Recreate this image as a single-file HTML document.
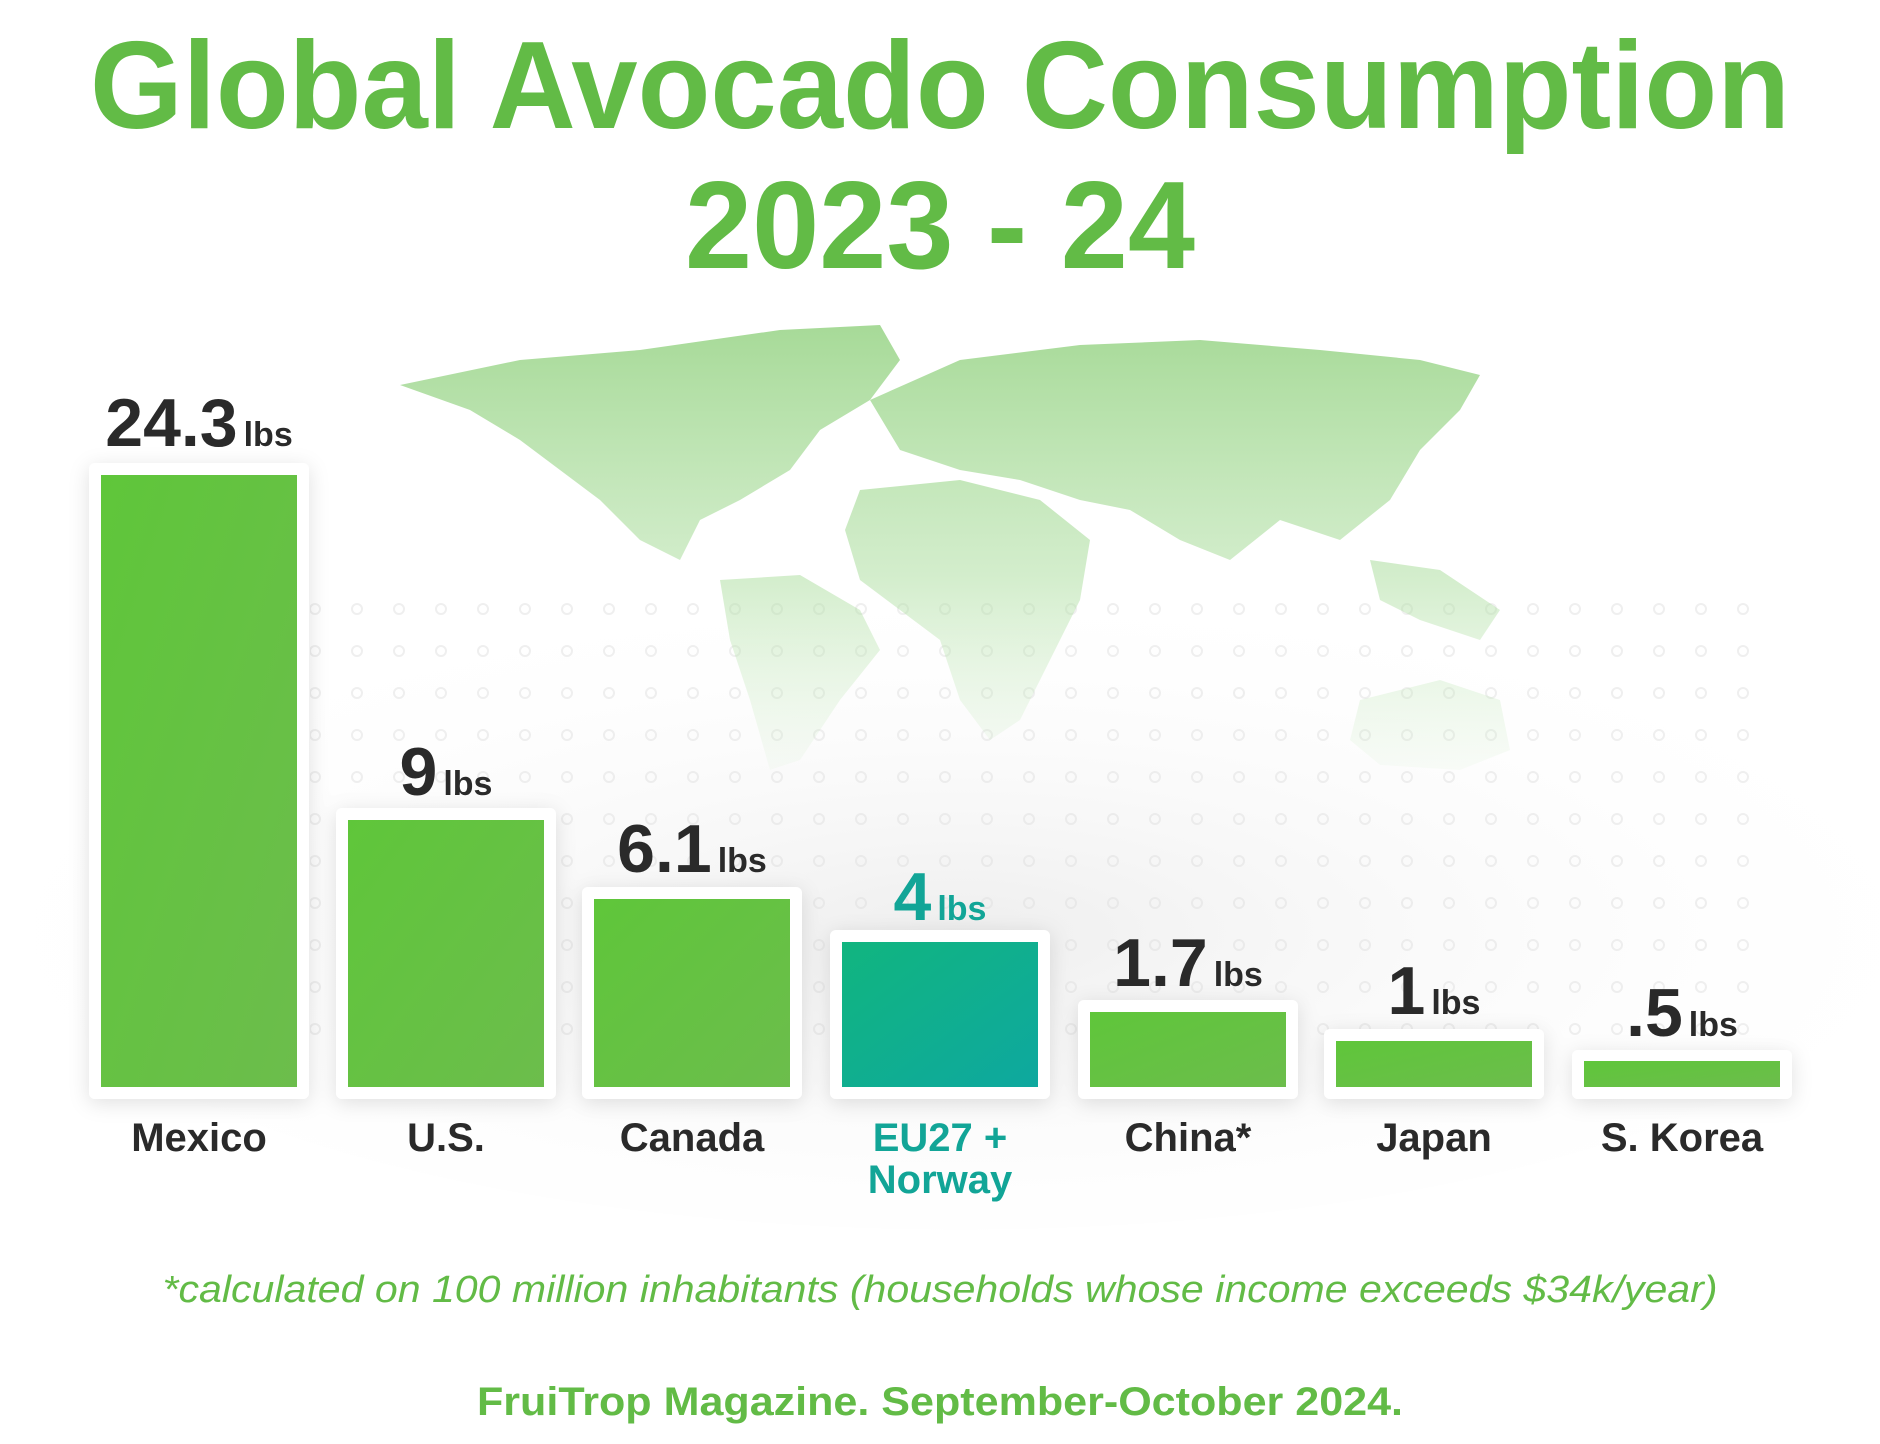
<!DOCTYPE html>
<html><head><meta charset="utf-8"><style>
html,body{margin:0;padding:0;background:#fff;}
svg{display:block;}
text{font-family:"Liberation Sans",sans-serif;}
</style></head><body>
<svg width="1880" height="1444" viewBox="0 0 1880 1444" xmlns="http://www.w3.org/2000/svg">
<defs>
<linearGradient id="gb" x1="0" y1="0" x2="1" y2="1"><stop offset="0" stop-color="#5fc63a"/><stop offset="1" stop-color="#6cbd4c"/></linearGradient>
<linearGradient id="tb" x1="0" y1="0" x2="1" y2="1"><stop offset="0" stop-color="#11b57f"/><stop offset="1" stop-color="#0ea89f"/></linearGradient>
<linearGradient id="mapg" gradientUnits="userSpaceOnUse" x1="0" y1="320" x2="0" y2="790"><stop offset="0" stop-color="#8fd07c" stop-opacity="0.8"/><stop offset="0.55" stop-color="#a8dc9a" stop-opacity="0.5"/><stop offset="1" stop-color="#c8eac0" stop-opacity="0.05"/></linearGradient>
<radialGradient id="bgsh" cx="0.5" cy="0.55" r="0.55"><stop offset="0" stop-color="#eeeeee"/><stop offset="1" stop-color="#ffffff" stop-opacity="0"/></radialGradient>
<filter id="sh" x="-20%" y="-20%" width="140%" height="140%"><feDropShadow dx="0" dy="4" stdDeviation="10" flood-color="#000" flood-opacity="0.12"/></filter>
<pattern id="dots" width="42" height="42" patternUnits="userSpaceOnUse"><circle cx="21" cy="21" r="5" fill="none" stroke="#dcdcdc" stroke-width="2"/></pattern>
</defs>
<rect width="1880" height="1444" fill="#fff"/>
<ellipse cx="960" cy="900" rx="960" ry="330" fill="url(#bgsh)"/>
<rect x="310" y="600" width="1440" height="460" fill="url(#dots)" opacity="0.45"/>
<g fill="url(#mapg)">
<path d="M400 385 L520 360 L640 350 L780 330 L880 325 L900 360 L870 400 L820 430 L790 470 L740 500 L700 520 L680 560 L640 540 L600 500 L560 470 L520 440 L470 410 Z"/>
<path d="M720 580 L800 575 L860 610 L880 650 L840 700 L800 760 L770 770 L750 700 L730 640 Z"/>
<path d="M870 400 L960 360 L1080 345 L1200 340 L1320 350 L1420 360 L1480 375 L1460 410 L1420 450 L1390 500 L1340 540 L1280 520 L1230 560 L1180 540 L1130 510 L1080 500 L1020 480 L960 470 L900 450 Z"/>
<path d="M860 490 L960 480 L1040 500 L1090 540 L1080 600 L1050 660 L1020 720 L990 740 L960 700 L940 640 L900 610 L860 580 L845 530 Z"/>
<path d="M1360 700 L1440 680 L1500 700 L1510 750 L1460 770 L1380 765 L1350 740 Z"/>
<path d="M1370 560 L1440 570 L1500 610 L1480 640 L1420 620 L1380 600 Z"/>
</g>
<text x="940" y="128" text-anchor="middle" font-size="124" font-weight="bold" fill="#62bb46" textLength="1700" lengthAdjust="spacingAndGlyphs">Global Avocado Consumption</text>
<text x="940" y="268" text-anchor="middle" font-size="124" font-weight="bold" fill="#62bb46" textLength="510" lengthAdjust="spacingAndGlyphs">2023 - 24</text>
<g filter="url(#sh)" fill="#fff">
<rect x="89" y="463" width="220" height="636" rx="6"/>
<rect x="336" y="808" width="220" height="291" rx="6"/>
<rect x="582" y="887" width="220" height="212" rx="6"/>
<rect x="830" y="930" width="220" height="169" rx="6"/>
<rect x="1078" y="1000" width="220" height="99" rx="6"/>
<rect x="1324" y="1029" width="220" height="70" rx="6"/>
<rect x="1572" y="1050" width="220" height="49" rx="6"/>
</g>
<rect x="101" y="475" width="196" height="612" fill="url(#gb)"/>
<rect x="348" y="820" width="196" height="267" fill="url(#gb)"/>
<rect x="594" y="899" width="196" height="188" fill="url(#gb)"/>
<rect x="842" y="942" width="196" height="145" fill="url(#tb)"/>
<rect x="1090" y="1012" width="196" height="75" fill="url(#gb)"/>
<rect x="1336" y="1041" width="196" height="46" fill="url(#gb)"/>
<rect x="1584" y="1061" width="196" height="26" fill="url(#gb)"/>
<g font-weight="bold" fill="#2a2a2a">
<text x="199" y="446" text-anchor="middle"><tspan font-size="68">24.3</tspan><tspan font-size="34" dx="6">lbs</tspan></text>
<text x="446" y="795" text-anchor="middle"><tspan font-size="68">9</tspan><tspan font-size="34" dx="6">lbs</tspan></text>
<text x="692" y="872" text-anchor="middle"><tspan font-size="68">6.1</tspan><tspan font-size="34" dx="6">lbs</tspan></text>
<text x="940" y="920" text-anchor="middle" fill="#12a597"><tspan font-size="68">4</tspan><tspan font-size="34" dx="6">lbs</tspan></text>
<text x="1188" y="986" text-anchor="middle"><tspan font-size="68">1.7</tspan><tspan font-size="34" dx="6">lbs</tspan></text>
<text x="1434" y="1014" text-anchor="middle"><tspan font-size="68">1</tspan><tspan font-size="34" dx="6">lbs</tspan></text>
<text x="1682" y="1036" text-anchor="middle"><tspan font-size="68">.5</tspan><tspan font-size="34" dx="6">lbs</tspan></text>
</g>
<g font-size="40" font-weight="bold" fill="#2a2a2a" text-anchor="middle">
<text x="199" y="1151">Mexico</text>
<text x="446" y="1151">U.S.</text>
<text x="692" y="1151">Canada</text>
<text x="940" y="1151" fill="#12a597">EU27 +</text>
<text x="940" y="1193" fill="#12a597">Norway</text>
<text x="1188" y="1151">China*</text>
<text x="1434" y="1151">Japan</text>
<text x="1682" y="1151">S. Korea</text>
</g>
<text x="940" y="1302" text-anchor="middle" font-size="38" font-style="italic" fill="#62bb46" textLength="1555" lengthAdjust="spacingAndGlyphs">*calculated on 100 million inhabitants (households whose income exceeds $34k/year)</text>
<text x="940" y="1415" text-anchor="middle" font-size="40" font-weight="bold" fill="#62bb46" textLength="926" lengthAdjust="spacingAndGlyphs">FruiTrop Magazine. September-October 2024.</text>
</svg>
</body></html>
